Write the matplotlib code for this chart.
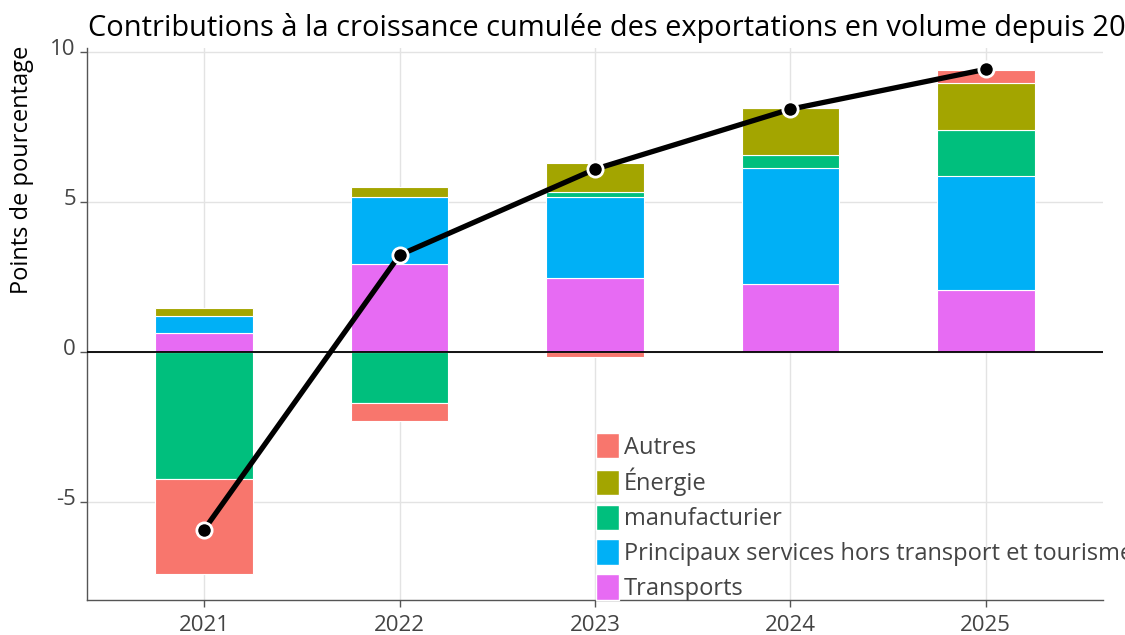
import numpy as np
import matplotlib
matplotlib.use("Agg")
import matplotlib.pyplot as plt
from matplotlib.patches import Patch
from matplotlib.transforms import ScaledTranslation

plt.rcParams["font.family"] = ["Open Sans", "DejaVu Sans"]

years = [2021, 2022, 2023, 2024, 2025]
transports = [0.63, 2.92, 2.45, 2.27, 2.05]
services = [0.58, 2.24, 2.72, 3.87, 3.83]
manufacturier = [-4.22, -1.69, 0.15, 0.43, 1.53]
energie = [0.26, 0.35, 0.96, 1.55, 1.55]
autres = [-3.17, -0.60, -0.17, 0.0, 0.45]
total = [-5.92, 3.23, 6.09, 8.09, 9.42]

series = [
    ("Transports", transports, "#E76BF3"),
    ("Principaux services hors transport et tourisme", services, "#00B0F6"),
    ("manufacturier", manufacturier, "#00BF7D"),
    ("Énergie", energie, "#A3A500"),
    ("Autres", autres, "#F8766D"),
]

fig = plt.figure(figsize=(11.25, 6.35), dpi=100)
ax = fig.add_axes([87 / 1125, 35 / 635, 1016 / 1125, 552 / 635])

x = np.array(years, dtype=float)
pos_base = np.zeros(len(years))
neg_base = np.zeros(len(years))
for name, vals, color in series:
    v = np.array(vals)
    bottom = np.where(v >= 0, pos_base, neg_base)
    ax.bar(x, v, width=0.5, bottom=bottom, color=color,
           edgecolor="white", linewidth=0.8, zorder=2)
    pos_base += np.clip(v, 0, None)
    neg_base += np.clip(v, None, 0)

ax.plot(x, total, color="black", lw=3.8, zorder=4,
        marker="o", markersize=11, markerfacecolor="black",
        markeredgecolor="white", markeredgewidth=2)

ax.axhline(0, color="black", lw=1.3, zorder=3)

ax.set_xlim(2020.40, 2025.60)
ax.set_ylim(-8.27, 10.13)
ax.set_xticks(years)
ax.set_yticks([-5, 0, 5, 10])
ax.set_yticklabels(["-5", "0", "5", "10"])
ax.grid(True, color="#e3e3e3", lw=1, zorder=0)
ax.set_axisbelow(True)
for s in ["top", "right"]:
    ax.spines[s].set_visible(False)
for s in ["left", "bottom"]:
    ax.spines[s].set_color("#555555")
    ax.spines[s].set_linewidth(1)
ax.tick_params(axis="both", colors="#555555", labelcolor="#444444",
               labelsize=16, length=5, width=1)
ax.tick_params(axis="x", pad=6)
ax.tick_params(axis="y", pad=3)
offset = ScaledTranslation(0, 5 / 100, fig.dpi_scale_trans)
for lbl in ax.get_yticklabels():
    lbl.set_transform(lbl.get_transform() + offset)

fig.text(88 / 1125, 1 - 36 / 635,
         "Contributions à la croissance cumulée des exportations en volume depuis 2019",
         fontsize=20.9, color="black", ha="left", va="baseline")
fig.text(22 / 1125, 1 - 170 / 635, "Points de pourcentage",
         fontsize=17, rotation=90, ha="center", va="center", color="black")

handles = [Patch(facecolor=c, edgecolor="white", label=n) for n, _, c in series[::-1]]
fig.legend(handles=handles, loc="upper left",
           bbox_to_anchor=(596 / 1125, 1 - 433 / 635), frameon=False,
           fontsize=17, handlelength=0.97, handleheight=1.27,
           handletextpad=0.22, labelspacing=0.35, borderpad=0,
           borderaxespad=0, labelcolor="#444444")

fig.savefig("out.png", dpi=100)
